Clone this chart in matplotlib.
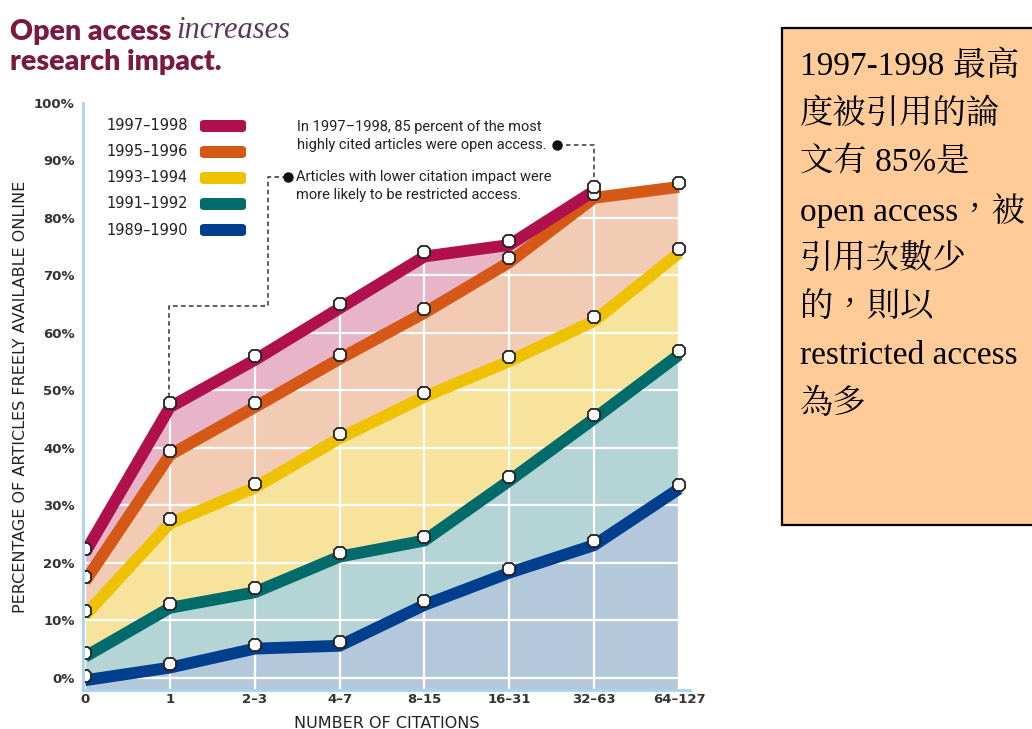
import numpy as np
import matplotlib
matplotlib.use("Agg")
import matplotlib.pyplot as plt
from matplotlib.patches import Rectangle, FancyBboxPatch
from matplotlib.lines import Line2D
import matplotlib.transforms as mtransforms

# ---- data -------------------------------------------------------------
citations = ["0", "1", "2–3", "4–7", "8–15", "16–31", "32–63", "64–127"]
periods = ["1997–1998", "1995–1996", "1993–1994", "1991–1992", "1989–1990"]

pct_1997_1998 = [22.5, 47.8, 56.0, 65.0, 74.0, 76.0, 85.4, np.nan]
pct_1995_1996 = [17.5, 39.5, 47.8, 56.2, 64.2, 73.0, 84.2, 86.1]
pct_1993_1994 = [11.6, 27.6, 33.8, 42.4, 49.6, 55.8, 62.8, 74.6]
pct_1991_1992 = [4.4, 12.9, 15.6, 21.8, 24.6, 35.0, 45.8, 56.9]
pct_1989_1990 = [0.3, 2.5, 5.8, 6.3, 13.4, 19.0, 23.8, 33.6]

series = [pct_1997_1998, pct_1995_1996, pct_1993_1994, pct_1991_1992, pct_1989_1990]
line_colors = ["#b0114d", "#d55816", "#eec200", "#006b6b", "#003f8e"]
fill_colors = ["#e8b4c8", "#f1cbb4", "#f7e39c", "#b4d4d6", "#b4c8dc"]

note_lines = ["1997-1998 最高", "度被引用的論", "文有 85%是", "open access，被",
              "引用次數少", "的，則以", "restricted access", "為多"]

# ---- figure -----------------------------------------------------------
W, H = 1032, 729
fig = plt.figure(figsize=(W / 100, H / 100), dpi=100)
fig.patch.set_facecolor("white")


def px(x, y):
    return x / W, 1 - y / H


ax_l, ax_r, ax_t, ax_b = 83, 690, 103, 690
ax = fig.add_axes([ax_l / W, 1 - ax_b / H, (ax_r - ax_l) / W, (ax_b - ax_t) / H])
ax.set_xlim(-0.024, 7.13)
ax.set_ylim(-2.09, 100)
ax.set_facecolor("white")

x = np.arange(len(citations))
vals = [np.array(s, dtype=float) for s in series]

# stacked fills between successive periods
base = np.full(len(x), -2.09)
for i in range(len(vals) - 1, -1, -1):
    top = vals[i]
    m = ~np.isnan(top)
    ax.fill_between(x[m], base[m], top[m], color=fill_colors[i], lw=0, zorder=1)
    base = np.where(np.isnan(top), base, top)

# white grid over the fills
for yv in range(0, 101, 10):
    ax.axhline(yv, color="white", lw=1.6, zorder=2)
for xv in x:
    ax.axvline(xv, color="white", lw=1.6, zorder=2)

# thick period lines with octagon markers
shift = mtransforms.offset_copy(ax.transData, fig=fig, x=0, y=-4, units="dots")
for i in range(len(vals) - 1, -1, -1):
    v = vals[i]
    m = ~np.isnan(v)
    ax.plot(x[m], v[m], color=line_colors[i], lw=8.5, solid_joinstyle="miter",
            solid_capstyle="butt", transform=shift, zorder=3 + (5 - i) * 0.1)
for i in range(len(vals) - 1, -1, -1):
    v = vals[i]
    m = ~np.isnan(v)
    ax.plot(x[m], v[m], ls="none", marker="8", ms=10, mfc="white", mec="#222222",
            mew=1.3, zorder=5 + (5 - i) * 0.1)

# axes styling
for s in ["top", "right"]:
    ax.spines[s].set_visible(False)
for s in ["left", "bottom"]:
    ax.spines[s].set_color("#a9d1f2")
    ax.spines[s].set_linewidth(2)
    ax.spines[s].set_zorder(6)
ax.set_yticks(range(0, 101, 10))
ax.set_yticklabels([f"{v}%" for v in range(0, 101, 10)], fontsize=9.5,
                   fontweight="bold", color="#333333", family="DejaVu Sans")
ax.set_xticks(x)
ax.set_xticklabels(citations, fontsize=9.5, fontweight="bold", color="#333333")
ax.tick_params(length=0, pad=6)
ax.tick_params(axis="x", pad=2)
ax.set_xlabel("NUMBER OF CITATIONS", fontsize=11.5, color="#222222", labelpad=7)
ax.set_ylabel("PERCENTAGE OF ARTICLES FREELY AVAILABLE ONLINE", fontsize=11.5,
              color="#222222", labelpad=4)

# title
tx, ty = px(10, 32)
fig.text(tx, ty, "Open access", fontsize=20.5, fontweight="heavy", family="Lato",
         color="#7a1a40", va="center")
tx, ty = px(176, 31)
fig.text(tx, ty, "increases", fontsize=22, style="italic", family="Liberation Serif",
         color="#5b3760", va="center")
tx, ty = px(10, 62)
fig.text(tx, ty, "research impact.", fontsize=20.5, fontweight="heavy", family="Lato",
         color="#7a1a40", va="center")

# legend
row_y = [126, 152, 178, 204, 230]
for lab, col, yy in zip(periods, line_colors, row_y):
    lx, ly = px(188, yy)
    fig.text(lx, ly, lab, fontsize=10.5, color="#222222", ha="right", va="center")
    sx, sy = px(200, yy + 6)
    fig.patches.append(FancyBboxPatch((sx, sy), 46 / W, 12 / H,
                                      boxstyle="round,pad=0,rounding_size=0.004",
                                      transform=fig.transFigure, fc=col, ec="none"))

# callouts
ann_font = dict(fontsize=10.5, color="#222222", family=["Roboto", "DejaVu Sans"])
tx, ty = px(297, 136)
fig.text(tx, ty, "In 1997–1998, 85 percent of the most\nhighly cited articles were open access.",
         va="center", linespacing=1.3, **ann_font)
tx, ty = px(296, 186)
fig.text(tx, ty, "Articles with lower citation impact were\nmore likely to be restricted access.",
         va="center", linespacing=1.3, **ann_font)


def fig_path(pts, **kw):
    xs = [p[0] / W for p in pts]
    ys = [1 - p[1] / H for p in pts]
    fig.lines.append(Line2D(xs, ys, transform=fig.transFigure, color="#333333",
                            lw=1.1, ls=(0, (3, 2.2)), **kw))


fig_path([(558, 145), (594, 145), (594, 180)])
fig_path([(287, 177), (268, 177), (268, 306), (169, 306), (169, 396)])
for (dx, dy) in [(557, 145), (288, 177)]:
    mx, my = px(dx, dy)
    fig.lines.append(Line2D([mx], [my], transform=fig.transFigure, marker="o",
                            ms=6.5, color="#111111"))

# note box
bx, by = px(782, 525)
fig.patches.append(Rectangle((bx, by), (260) / W, (525 - 28) / H,
                             transform=fig.transFigure, fc="#ffcc99",
                             ec="black", lw=1.6))
note_font = ["Liberation Serif", "Noto Serif CJK TC", "Noto Sans CJK TC"]
for k, line in enumerate(note_lines):
    nx, ny = px(800, 66 + k * 48.3)
    fig.text(nx, ny, line, fontsize=24, family=note_font, color="black", va="center")

fig.savefig("out.png", dpi=100)
